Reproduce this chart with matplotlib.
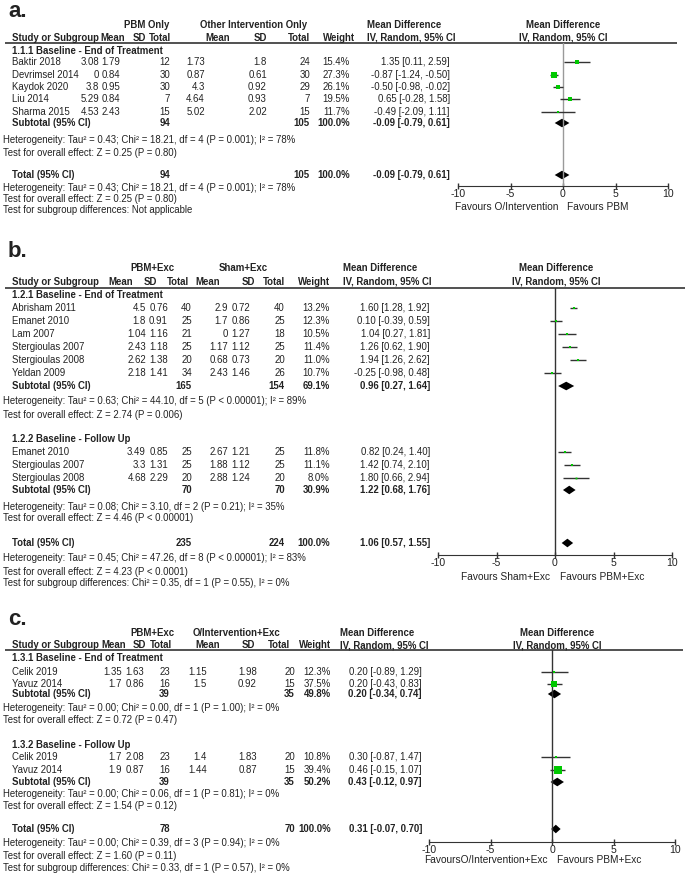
import matplotlib
matplotlib.use('Agg')
import matplotlib.pyplot as plt

plt.rcParams['font.family'] = ['Liberation Sans', 'DejaVu Sans']

W, H = 685, 874
TXT = '#222222'
GREEN = '#00c800'
FS = 6.9

# ---------- panel a : PBM only vs other intervention only ----------
a_study = ['Baktir 2018', 'Devrimsel 2014', 'Kaydok 2020', 'Liu 2014', 'Sharma 2015']
a_m1 = [3.08, 0, 3.8, 5.29, 4.53]
a_sd1 = [1.79, 0.84, 0.95, 0.84, 2.43]
a_n1 = [12, 30, 30, 7, 15]
a_m2 = [1.73, 0.87, 4.3, 4.64, 5.02]
a_sd2 = [1.8, 0.61, 0.92, 0.93, 2.02]
a_n2 = [24, 30, 29, 7, 15]
a_w = [15.4, 27.3, 26.1, 19.5, 11.7]
a_md = [1.35, -0.87, -0.50, 0.65, -0.49]
a_lo = [0.11, -1.24, -0.98, -0.28, -2.09]
a_hi = [2.59, -0.50, -0.02, 1.58, 1.11]
a_sub = [-0.09, -0.79, 0.61]
a_tot = [-0.09, -0.79, 0.61]
a_het = 'Heterogeneity: Tau² = 0.43; Chi² = 18.21, df = 4 (P = 0.001); I² = 78%'
a_z = 'Test for overall effect: Z = 0.25 (P = 0.80)'
a_sg = 'Test for subgroup differences: Not applicable'

# ---------- panel b : PBM+Exc vs Sham+Exc ----------
b1_study = ['Abrisham 2011', 'Emanet 2010', 'Lam 2007', 'Stergioulas 2007', 'Stergioulas 2008', 'Yeldan 2009']
b1_m1 = [4.5, 1.8, 1.04, 2.43, 2.62, 2.18]
b1_sd1 = [0.76, 0.91, 1.16, 1.18, 1.38, 1.41]
b1_n1 = [40, 25, 21, 25, 20, 34]
b1_m2 = [2.9, 1.7, 0, 1.17, 0.68, 2.43]
b1_sd2 = [0.72, 0.86, 1.27, 1.12, 0.73, 1.46]
b1_n2 = [40, 25, 18, 25, 20, 26]
b1_w = [13.2, 12.3, 10.5, 11.4, 11.0, 10.7]
b1_md = [1.60, 0.10, 1.04, 1.26, 1.94, -0.25]
b1_lo = [1.28, -0.39, 0.27, 0.62, 1.26, -0.98]
b1_hi = [1.92, 0.59, 1.81, 1.90, 2.62, 0.48]
b1_sub = [0.96, 0.27, 1.64]
b1_het = 'Heterogeneity: Tau² = 0.63; Chi² = 44.10, df = 5 (P < 0.00001); I² = 89%'
b1_z = 'Test for overall effect: Z = 2.74 (P = 0.006)'

b2_study = ['Emanet 2010', 'Stergioulas 2007', 'Stergioulas 2008']
b2_m1 = [3.49, 3.3, 4.68]
b2_sd1 = [0.85, 1.31, 2.29]
b2_n1 = [25, 25, 20]
b2_m2 = [2.67, 1.88, 2.88]
b2_sd2 = [1.21, 1.12, 1.24]
b2_n2 = [25, 25, 20]
b2_w = [11.8, 11.1, 8.0]
b2_md = [0.82, 1.42, 1.80]
b2_lo = [0.24, 0.74, 0.66]
b2_hi = [1.40, 2.10, 2.94]
b2_sub = [1.22, 0.68, 1.76]
b2_het = 'Heterogeneity: Tau² = 0.08; Chi² = 3.10, df = 2 (P = 0.21); I² = 35%'
b2_z = 'Test for overall effect: Z = 4.46 (P < 0.00001)'

b_tot = [1.06, 0.57, 1.55]
b_het = 'Heterogeneity: Tau² = 0.45; Chi² = 47.26, df = 8 (P < 0.00001); I² = 83%'
b_z = 'Test for overall effect: Z = 4.23 (P < 0.0001)'
b_sg = 'Test for subgroup differences: Chi² = 0.35, df = 1 (P = 0.55), I² = 0%'

# ---------- panel c : PBM+Exc vs other intervention+Exc ----------
c1_study = ['Celik 2019', 'Yavuz 2014']
c1_m1 = [1.35, 1.7]
c1_sd1 = [1.63, 0.86]
c1_n1 = [23, 16]
c1_m2 = [1.15, 1.5]
c1_sd2 = [1.98, 0.92]
c1_n2 = [20, 15]
c1_w = [12.3, 37.5]
c1_md = [0.20, 0.20]
c1_lo = [-0.89, -0.43]
c1_hi = [1.29, 0.83]
c1_sub = [0.20, -0.34, 0.74]
c1_het = 'Heterogeneity: Tau² = 0.00; Chi² = 0.00, df = 1 (P = 1.00); I² = 0%'
c1_z = 'Test for overall effect: Z = 0.72 (P = 0.47)'

c2_study = ['Celik 2019', 'Yavuz 2014']
c2_m1 = [1.7, 1.9]
c2_sd1 = [2.08, 0.87]
c2_n1 = [23, 16]
c2_m2 = [1.4, 1.44]
c2_sd2 = [1.83, 0.87]
c2_n2 = [20, 15]
c2_w = [10.8, 39.4]
c2_md = [0.30, 0.46]
c2_lo = [-0.87, -0.15]
c2_hi = [1.47, 1.07]
c2_sub = [0.43, -0.12, 0.97]
c2_het = 'Heterogeneity: Tau² = 0.00; Chi² = 0.06, df = 1 (P = 0.81); I² = 0%'
c2_z = 'Test for overall effect: Z = 1.54 (P = 0.12)'

c_tot = [0.31, -0.07, 0.70]
c_het = 'Heterogeneity: Tau² = 0.00; Chi² = 0.39, df = 3 (P = 0.94); I² = 0%'
c_z = 'Test for overall effect: Z = 1.60 (P = 0.11)'
c_sg = 'Test for subgroup differences: Chi² = 0.33, df = 1 (P = 0.57), I² = 0%'

ticks = [-10, -5, 0, 5, 10]


fig = plt.figure(figsize=(W / 100, H / 100), dpi=100)
ax = fig.add_axes([0, 0, 1, 1])
ax.set_xlim(0, W)
ax.set_ylim(H, 0)
ax.axis('off')


def t(x, y, s, ha='left', bold=False, size=FS):
    ax.text(x, y, s, ha=ha, va='center', fontsize=size, color=TXT,
            fontweight='bold' if bold else 'normal')


def fmt(v):
    return '%g' % v


def ci_txt(md, lo, hi):
    return '%.2f [%.2f, %.2f]' % (md, lo, hi)


def header(y_grp, y_col, line_y, line_x1, grp, grp_x, hdr_x, md_x, fp_x):
    t(grp_x[0], y_grp, grp[0], 'center', True)
    t(grp_x[1], y_grp, grp[1], 'center', True)
    t(12, y_col, 'Study or Subgroup', bold=True)
    for lab, x in zip(['Mean', 'SD', 'Total', 'Mean', 'SD', 'Total', 'Weight'], hdr_x):
        t(x, y_col, lab, 'right', True)
    t(md_x, y_grp, 'Mean Difference', bold=True)
    t(md_x, y_col, 'IV, Random, 95% CI', bold=True)
    t(fp_x, y_grp, 'Mean Difference', 'center', True)
    t(fp_x, y_col, 'IV, Random, 95% CI', 'center', True)
    ax.hlines(line_y, 5, line_x1, color='#333333', lw=1.2)


def forest_axes(x0, x1, ytop, ybot, zero_col):
    fx = fig.add_axes([x0 / W, 1 - ybot / H, (x1 - x0) / W, (ybot - ytop) / H])
    fx.set_xlim(-10, 10)
    fx.set_ylim(ybot, ytop)
    fx.patch.set_alpha(0)
    for s in ['left', 'right', 'top']:
        fx.spines[s].set_visible(False)
    fx.spines['bottom'].set_color('#333333')
    fx.set_yticks([])
    fx.set_xticks(ticks)
    fx.set_xticklabels([str(v) for v in ticks])
    fx.tick_params(axis='x', direction='inout', length=5, width=1, labelsize=FS + 0.7,
                   pad=0, colors='#333333', labelcolor=TXT)
    fx.axvline(0, color=zero_col, lw=1)
    return fx


def studies(fx, cols, ys, study, m1, sd1, n1, m2, sd2, n2, w, md, lo, hi):
    for i in range(len(study)):
        y = ys[i]
        t(12, y, study[i])
        t(cols[0], y, fmt(m1[i]), 'right')
        t(cols[1], y, fmt(sd1[i]), 'right')
        t(cols[2], y, str(n1[i]), 'right')
        t(cols[3], y, fmt(m2[i]), 'right')
        t(cols[4], y, fmt(sd2[i]), 'right')
        t(cols[5], y, str(n2[i]), 'right')
        t(cols[6], y, '%.1f%%' % w[i], 'right')
        t(cols[7], y, ci_txt(md[i], lo[i], hi[i]), 'right')
        fx.hlines(y, lo[i], hi[i], color='#333333', lw=1)
        side = 0.17 * w[i] + 0.5
        fx.plot(md[i], y, 's', ms=side * 0.72, color=GREEN, mec=GREEN, mew=0)


def pooled(fx, cols, y, label, n1, n2, w, est):
    t(12, y, label, bold=True)
    t(cols[2], y, str(n1), 'right', True)
    t(cols[5], y, str(n2), 'right', True)
    t(cols[6], y, '%.1f%%' % w, 'right', True)
    t(cols[7], y, ci_txt(*est), 'right', True)
    md, lo, hi = est
    fx.fill([lo, md, hi, md], [y, y - 4.3, y, y + 4.3], color='black', lw=0)


# ================= panel a =================
ax.text(8, 17, 'a.', fontsize=16, fontweight='bold', color=TXT, va='baseline')
cols_a = [99, 120, 170, 205, 267, 310, 350, 450]
header(25, 38, 43, 677, ['PBM Only', 'Other Intervention Only'], [147, 254],
       [125, 146, 171, 230, 267, 310, 355], 367, 563)
fa = forest_axes(458, 668, 43, 186, '#9a9a9a')
t(12, 51, '1.1.1 Baseline - End of Treatment', bold=True)
studies(fa, cols_a, [62, 75, 87, 99, 112], a_study, a_m1, a_sd1, a_n1, a_m2, a_sd2,
        a_n2, a_w, a_md, a_lo, a_hi)
pooled(fa, cols_a, 123, 'Subtotal (95% CI)', sum(a_n1), sum(a_n2), sum(a_w), a_sub)
t(3, 140, a_het)
t(3, 153, a_z)
pooled(fa, cols_a, 175, 'Total (95% CI)', sum(a_n1), sum(a_n2), sum(a_w), a_tot)
t(3, 188, a_het)
t(3, 199, a_z)
t(3, 210, a_sg)
t(559, 207, 'Favours O/Intervention', 'right', size=FS + 0.4)
t(567, 207, 'Favours PBM', size=FS + 0.4)

# ================= panel b =================
ax.text(8, 257, 'b.', fontsize=16, fontweight='bold', color=TXT, va='baseline')
cols_b = [146, 168, 192, 228, 250, 285, 330, 430]
header(268, 282, 288, 685, ['PBM+Exc', 'Sham+Exc'], [152, 243],
       [133, 157, 189, 220, 255, 285, 330], 343, 556)
fb = forest_axes(438, 672, 288, 555, '#333333')
t(12, 295, '1.2.1 Baseline - End of Treatment', bold=True)
studies(fb, cols_b, [308, 321, 334, 347, 360, 373], b1_study, b1_m1, b1_sd1, b1_n1,
        b1_m2, b1_sd2, b1_n2, b1_w, b1_md, b1_lo, b1_hi)
pooled(fb, cols_b, 386, 'Subtotal (95% CI)', sum(b1_n1), sum(b1_n2), sum(b1_w), b1_sub)
t(3, 401, b1_het)
t(3, 415, b1_z)
t(12, 439, '1.2.2 Baseline - Follow Up', bold=True)
studies(fb, cols_b, [452, 465, 478], b2_study, b2_m1, b2_sd1, b2_n1,
        b2_m2, b2_sd2, b2_n2, b2_w, b2_md, b2_lo, b2_hi)
pooled(fb, cols_b, 490, 'Subtotal (95% CI)', sum(b2_n1), sum(b2_n2), sum(b2_w), b2_sub)
t(3, 507, b2_het)
t(3, 518, b2_z)
pooled(fb, cols_b, 543, 'Total (95% CI)', sum(b1_n1) + sum(b2_n1), sum(b1_n2) + sum(b2_n2),
       sum(b1_w) + sum(b2_w), b_tot)
t(3, 558, b_het)
t(3, 572, b_z)
t(3, 583, b_sg)
t(550, 577, 'Favours Sham+Exc', 'right', size=FS + 0.4)
t(560, 577, 'Favours PBM+Exc', size=FS + 0.4)

# ================= panel c =================
ax.text(8, 625, 'c.', fontsize=16, fontweight='bold', color=TXT, va='baseline')
cols_c = [122, 144, 170, 207, 257, 295, 331, 422]
header(633, 645, 650, 683, ['PBM+Exc', 'O/Intervention+Exc'], [152, 237],
       [126, 146, 172, 220, 255, 290, 331], 340, 557)
fc = forest_axes(429, 675, 650, 842, '#333333')
t(12, 658, '1.3.1 Baseline - End of Treatment', bold=True)
studies(fc, cols_c, [672, 684], c1_study, c1_m1, c1_sd1, c1_n1,
        c1_m2, c1_sd2, c1_n2, c1_w, c1_md, c1_lo, c1_hi)
pooled(fc, cols_c, 694, 'Subtotal (95% CI)', sum(c1_n1), sum(c1_n2), sum(c1_w), c1_sub)
t(3, 708, c1_het)
t(3, 720, c1_z)
t(12, 745, '1.3.2 Baseline - Follow Up', bold=True)
studies(fc, cols_c, [757, 770], c2_study, c2_m1, c2_sd1, c2_n1,
        c2_m2, c2_sd2, c2_n2, c2_w, c2_md, c2_lo, c2_hi)
pooled(fc, cols_c, 782, 'Subtotal (95% CI)', sum(c2_n1), sum(c2_n2), sum(c2_w), c2_sub)
t(3, 794, c2_het)
t(3, 806, c2_z)
pooled(fc, cols_c, 829, 'Total (95% CI)', sum(c1_n1) + sum(c2_n1), sum(c1_n2) + sum(c2_n2),
       sum(c1_w) + sum(c2_w), c_tot)
t(3, 843, c_het)
t(3, 856, c_z)
t(3, 868, c_sg)
t(548, 860, 'FavoursO/Intervention+Exc', 'right', size=FS + 0.4)
t(557, 860, 'Favours PBM+Exc', size=FS + 0.4)

fig.savefig('out.png', dpi=100)
